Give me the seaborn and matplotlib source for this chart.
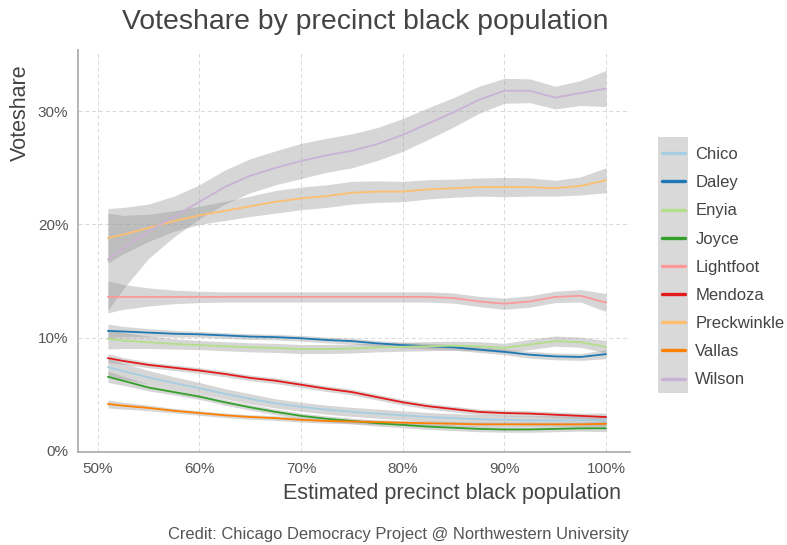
import matplotlib
matplotlib.use("Agg")
import matplotlib.pyplot as plt
from matplotlib.lines import Line2D
from matplotlib.patches import Rectangle
import numpy as np
import pandas as pd
import seaborn as sns

# Estimated share of black population in the precinct (%)
black_pop = [51, 52.5, 55, 57.5, 60, 62.5, 65, 67.5, 70, 72.5, 75,
             77.5, 80, 82.5, 85, 87.5, 90, 92.5, 95, 97.5, 100]

candidates = ["Chico", "Daley", "Enyia", "Joyce", "Lightfoot",
              "Mendoza", "Preckwinkle", "Vallas", "Wilson"]

# Smoothed voteshare (%) per candidate
chico = [7.4, 7.05, 6.5, 6.0, 5.55, 5.05, 4.6, 4.2, 3.9, 3.65, 3.45,
         3.3, 3.15, 3.0, 2.9, 2.8, 2.75, 2.7, 2.7, 2.7, 2.7]
daley = [10.6, 10.55, 10.45, 10.35, 10.3, 10.2, 10.1, 10.05, 9.95, 9.8, 9.7,
         9.5, 9.35, 9.25, 9.15, 8.95, 8.75, 8.5, 8.35, 8.3, 8.55]
enyia = [9.9, 9.75, 9.6, 9.45, 9.35, 9.25, 9.15, 9.1, 9.0, 9.0, 9.05,
         9.15, 9.2, 9.25, 9.3, 9.25, 9.1, 9.4, 9.7, 9.6, 9.2]
joyce = [6.55, 6.2, 5.6, 5.2, 4.8, 4.3, 3.85, 3.45, 3.1, 2.85, 2.65,
         2.45, 2.3, 2.15, 2.05, 1.95, 1.9, 1.9, 1.95, 2.0, 2.0]
lightfoot = [13.6, 13.6, 13.6, 13.6, 13.6, 13.6, 13.6, 13.6, 13.6, 13.6, 13.6,
             13.6, 13.6, 13.6, 13.5, 13.2, 13.0, 13.2, 13.6, 13.7, 13.1]
mendoza = [8.2, 7.95, 7.6, 7.35, 7.1, 6.8, 6.45, 6.2, 5.85, 5.5, 5.2,
           4.75, 4.3, 3.95, 3.7, 3.45, 3.35, 3.3, 3.2, 3.1, 3.0]
preckwinkle = [18.8, 19.1, 19.7, 20.3, 20.8, 21.2, 21.6, 22.0, 22.3, 22.5, 22.8,
               22.9, 22.9, 23.1, 23.2, 23.3, 23.3, 23.3, 23.2, 23.4, 23.9]
vallas = [4.15, 4.0, 3.8, 3.55, 3.35, 3.15, 3.0, 2.9, 2.75, 2.65, 2.6,
          2.55, 2.5, 2.45, 2.4, 2.35, 2.35, 2.35, 2.35, 2.35, 2.4]
wilson = [16.9, 17.9, 19.4, 20.7, 22.0, 23.3, 24.3, 25.0, 25.6, 26.1, 26.5,
          27.1, 27.9, 28.9, 29.9, 31.0, 31.8, 31.8, 31.2, 31.6, 32.0]

# Half-width of the confidence band (percentage points)
chico_se = [0.8, 0.7, 0.6, 0.55, 0.5, 0.45, 0.45, 0.4, 0.4, 0.4, 0.4,
            0.4, 0.4, 0.4, 0.4, 0.4, 0.4, 0.4, 0.4, 0.4, 0.45]
daley_se = [0.6, 0.45, 0.35, 0.3, 0.25, 0.25, 0.25, 0.25, 0.25, 0.25, 0.25,
            0.25, 0.25, 0.25, 0.25, 0.25, 0.25, 0.3, 0.3, 0.3, 0.4]
enyia_se = [0.9, 0.7, 0.55, 0.45, 0.4, 0.4, 0.4, 0.4, 0.4, 0.4, 0.4,
            0.4, 0.4, 0.4, 0.4, 0.4, 0.4, 0.45, 0.45, 0.45, 0.55]
joyce_se = [0.5, 0.4, 0.3, 0.25, 0.25, 0.25, 0.25, 0.25, 0.25, 0.25, 0.25,
            0.25, 0.25, 0.25, 0.25, 0.25, 0.25, 0.25, 0.25, 0.25, 0.3]
lightfoot_se = [1.4, 1.1, 0.8, 0.6, 0.5, 0.45, 0.45, 0.45, 0.45, 0.45, 0.45,
                0.45, 0.45, 0.45, 0.45, 0.45, 0.5, 0.5, 0.5, 0.55, 0.8]
mendoza_se = [0.4, 0.3, 0.25, 0.25, 0.25, 0.25, 0.25, 0.25, 0.25, 0.25, 0.25,
              0.25, 0.25, 0.25, 0.25, 0.25, 0.25, 0.25, 0.25, 0.25, 0.35]
preckwinkle_se = [2.2, 1.7, 1.2, 0.9, 0.8, 0.85, 0.9, 1.0, 1.0, 1.0, 1.0,
                  0.95, 0.9, 0.85, 0.8, 0.8, 0.85, 0.8, 0.7, 0.8, 1.1]
vallas_se = [0.35, 0.3, 0.25, 0.2, 0.2, 0.2, 0.2, 0.2, 0.2, 0.2, 0.2,
             0.2, 0.2, 0.2, 0.2, 0.2, 0.2, 0.2, 0.2, 0.2, 0.3]
wilson_se = [4.5, 3.6, 2.4, 1.8, 1.5, 1.5, 1.5, 1.5, 1.55, 1.5, 1.5,
             1.45, 1.45, 1.4, 1.3, 1.2, 1.1, 1.05, 1.0, 1.1, 1.6]

x_ticks = [50, 60, 70, 80, 90, 100]
x_tick_labels = ["50%", "60%", "70%", "80%", "90%", "100%"]
y_ticks = [0, 10, 20, 30]
y_tick_labels = ["0%", "10%", "20%", "30%"]

shares = [chico, daley, enyia, joyce, lightfoot, mendoza, preckwinkle, vallas, wilson]
errors = [chico_se, daley_se, enyia_se, joyce_se, lightfoot_se, mendoza_se,
          preckwinkle_se, vallas_se, wilson_se]

frames = []
for name, val, se in zip(candidates, shares, errors):
    frames.append(pd.DataFrame({"black_pop": black_pop, "share": val,
                                "se": se, "candidate": name}))
df = pd.concat(frames, ignore_index=True)
df["lo"] = df["share"] - df["se"]
df["hi"] = df["share"] + df["se"]

palette = dict(zip(candidates, sns.color_palette("Paired", 9)))

sns.set_style("white")
plt.rcParams["font.family"] = ["Liberation Sans", "DejaVu Sans"]

fig = plt.figure(figsize=(7.87, 5.45), dpi=100)
ax = fig.add_axes([78 / 787, 1 - 452 / 545, (630 - 78) / 787, (452 - 50) / 545])

# confidence ribbons
for name in candidates:
    sub = df[df["candidate"] == name]
    ax.fill_between(sub["black_pop"], sub["lo"], sub["hi"],
                    color="#999999", alpha=0.4, linewidth=0, zorder=1)

sns.lineplot(data=df, x="black_pop", y="share", hue="candidate",
             hue_order=candidates, palette=palette, errorbar=None,
             linewidth=1.3, legend=False, ax=ax, zorder=2)

ax.set_xlim(48.06, 102.36)
ax.set_ylim(-0.09, 35.4)
ax.set_xticks(x_ticks)
ax.set_xticklabels(x_tick_labels)
ax.set_yticks(y_ticks)
ax.set_yticklabels(y_tick_labels)
ax.set_xlabel("")
ax.set_ylabel("")
ax.grid(True, color="#d9d9d9", linestyle=(0, (4, 3)), linewidth=0.7)
ax.set_axisbelow(True)
for side in ["top", "right"]:
    ax.spines[side].set_visible(False)
for side in ["left", "bottom"]:
    ax.spines[side].set_color("#b0b0b0")
    ax.spines[side].set_linewidth(1.3)
ax.tick_params(axis="both", length=0, labelsize=11, labelcolor="#555555")
ax.tick_params(axis="x", pad=7)
ax.tick_params(axis="y", pad=7)

fig.text(365 / 787, 1 - 22 / 545, "Voteshare by precinct black population",
         ha="center", va="center", fontsize=20.4, color="#444444")
fig.text(20 / 787, 1 - 113 / 545, "Voteshare", rotation=90,
         ha="center", va="center", fontsize=15.5, color="#444444")
fig.text(621 / 787, 1 - 493 / 545, "Estimated precinct black population",
         ha="right", va="center", fontsize=15.5, color="#444444")
fig.text(629 / 787, 1 - 535 / 545,
         "Credit: Chicago Democracy Project @ Northwestern University",
         ha="right", va="center", fontsize=11.9, color="#555555")

# legend keys sit on a gray strip
fig.patches.append(Rectangle((658 / 787, 1 - 393 / 545), 30 / 787, 256 / 545,
                             transform=fig.transFigure, facecolor="#d9d9d9",
                             edgecolor="none", zorder=0))
handles = [Line2D([0], [0], color=palette[c], linewidth=2.4) for c in candidates]
fig.legend(handles, candidates, loc="upper left",
           bbox_to_anchor=(662 / 787, 1 - 147 / 545), frameon=False,
           fontsize=12, handlelength=1.4, handletextpad=0.6,
           labelspacing=0.79, borderpad=0, borderaxespad=0,
           labelcolor="#444444")

fig.savefig("out.png", dpi=100)
